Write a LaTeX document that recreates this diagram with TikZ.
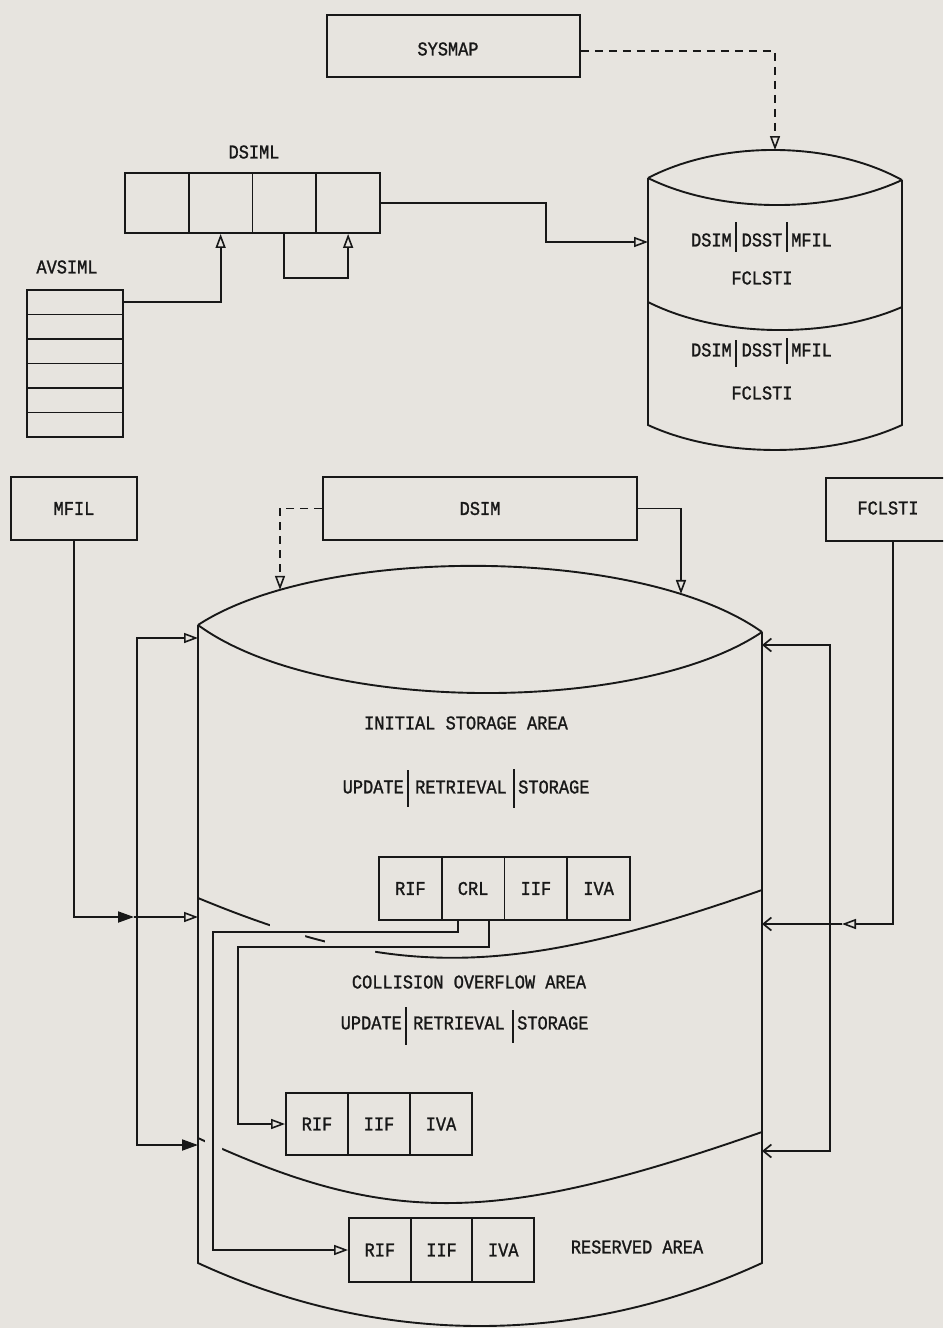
\documentclass[tikz,border=0pt]{standalone}
\usepackage{fontspec}
\newfontfamily\tw[FakeStretch=0.87,FakeBold=1.2]{Liberation Mono}
\usetikzlibrary{arrows.meta,calc,intersections}
\definecolor{paper}{RGB}{231,228,223}
\definecolor{ink}{RGB}{24,24,24}
\begin{document}
\begin{tikzpicture}[x=1pt,y=-1pt,
  every node/.style={font=\tw\fontsize{19.5}{22}\selectfont, text=ink, inner sep=0pt},
  line/.style={draw=ink, line width=1.9pt},
  box/.style={line, rectangle},
  cell/.style={line, rectangle},
  dsh/.style={dash pattern=on 8pt off 6pt},
  tri/.style={-{Triangle[open,length=14pt,width=10pt,line width=1.6pt]}},
  ftri/.style={-{Triangle[length=16pt,width=11pt]}},
  barb/.style={-{Straight Barb[length=8pt,width=13pt,line width=1.7pt]}}]
\fill[paper] (0,0) rectangle (943,1328);
\useasboundingbox (0,0) rectangle (943,1328);
\clip (0,0) rectangle (943,1328);

% ---------- top part ----------
\node[box, minimum width=253pt, minimum height=62pt] (sysmap) at (453.5,46) {};
\node (sysmaplab) at (448,49) {SYSMAP};

\node (dsimllab) at (254,152) {DSIML};
\foreach \i in {1,...,4}
  \node[cell, minimum width=63.75pt, minimum height=60pt] (ds\i) at ({125+63.75*(\i-0.5)},203) {};

\node (avlab) at (67,267) {AVSIML};
\foreach \i in {1,...,6}
  \node[cell, minimum width=96pt, minimum height=24.5pt] (av\i) at (75,{290+24.5*(\i-0.5)}) {};

% small drum
\draw[line] (648,178) .. controls (720,140.3) and (830,140.3) .. (902,180);
\draw[line] (648,178) .. controls (720,213.7) and (830,213.7) .. (902,180);
\draw[line] (648,302) .. controls (720,338.5) and (830,338.5) .. (902,307);
\draw[line] (648,178) -- (648,425) .. controls (720,458.3) and (830,458.3) .. (902,425) -- (902,180);
\coordinate (tcTop) at (775,150);
\coordinate (tcLeft) at (648,242);

\node[anchor=east] (u1) at (732,240) {DSIM};
\node (u2) at (762,240) {DSST};
\node[anchor=west] (u3) at (791,240) {MFIL};
\draw[line] (736,222) -- (736,252);
\draw[line] (787,222) -- (787,252);
\node (u4) at (762,278) {FCLSTI};
\node[anchor=east] (l1) at (732,350) {DSIM};
\node (l2) at (762,350) {DSST};
\node[anchor=west] (l3) at (791,350) {MFIL};
\draw[line] (736,340) -- (736,367);
\draw[line] (787,338) -- (787,364);
\node (l4) at (762,393) {FCLSTI};

% ---------- middle boxes ----------
\node[box, minimum width=126pt, minimum height=63pt] (mfil) at (74,508.5) {MFIL};
\node[box, minimum width=314pt, minimum height=63pt] (dsim) at (480,508.5) {DSIM};
\node[box, minimum width=134pt, minimum height=63pt] (fclsti) at (893,509.5) {};
\node (fclstilab) at (888,508) {FCLSTI};

% ---------- big drum ----------
\draw[line, name path=lidtop] (198,625) .. controls (320,545) and (640,545) .. (762,632);
\draw[line] (198,625) .. controls (320,714.5) and (640,714.5) .. (762,632);
\draw[line] (198,625) -- (198,1263) .. controls (380,1347) and (580,1347) .. (762,1263) -- (762,632);
\draw[line] (198,898) .. controls (394,979) and (508,979) .. (762,890);
\draw[line] (198,1138) .. controls (388,1225.7) and (494,1225.7) .. (762,1132);
% gaps where the connectors cross
\begin{scope}
  \clip (270,880) rectangle (305,990) (325,880) rectangle (375,990);
  \draw[paper, line width=5pt] (198,898) .. controls (394,979) and (508,979) .. (762,890);
\end{scope}
\begin{scope}
  \clip (205,1120) rectangle (222,1200);
  \draw[paper, line width=5pt] (198,1138) .. controls (388,1225.7) and (494,1225.7) .. (762,1132);
\end{scope}

\path[name path=vA] (280,400) -- (280,800);
\path[name path=vB] (681,400) -- (681,800);
\path[name intersections={of=lidtop and vA, by=lidA}];
\path[name intersections={of=lidtop and vB, by=lidB}];

\coordinate (clTop) at (198,638);
\coordinate (clMid) at (198,917);
\coordinate (clBot) at (198,1145);
\coordinate (crTop) at (762,645);
\coordinate (crMid) at (762,924);
\coordinate (crBot) at (762,1151);
\coordinate (mj) at (134,917);
\coordinate (fj) at (842,924);

\node (isa) at (466,723) {INITIAL STORAGE AREA};
\node[anchor=east] (iu) at (404,787) {UPDATE};
\node (ir) at (461,787) {RETRIEVAL};
\node[anchor=west] (is) at (518,787) {STORAGE};
\draw[line] (408,770) -- (408,807);
\draw[line] (514,769) -- (514,808);

\foreach \t [count=\i] in {RIF,CRL,IIF,IVA}
  \node[cell, minimum width=62.75pt, minimum height=63pt] (i\i) at ({379+62.75*(\i-0.5)},888.5) {\t};

\node (coa) at (469,982) {COLLISION OVERFLOW AREA};
\node[anchor=east] (cu) at (402,1023) {UPDATE};
\node (cr) at (459,1023) {RETRIEVAL};
\node[anchor=west] (cs) at (517,1023) {STORAGE};
\draw[line] (406,1007) -- (406,1045);
\draw[line] (513,1010) -- (513,1043);

\foreach \t [count=\i] in {RIF,IIF,IVA}
  \node[cell, minimum width=62pt, minimum height=62pt] (m\i) at ({286+62*(\i-0.5)},1124) {\t};

\foreach \t [count=\i] in {RIF,IIF,IVA}
  \node[cell, minimum width=61.7pt, minimum height=64pt] (r\i) at ({349+61.7*(\i-0.5)},1250) {\t};
\node (rsv) at (637,1247) {RESERVED AREA};

% ---------- connectors ----------
\draw[line, dsh, tri] ($(sysmap.east)+(0,5)$) -| (tcTop);
\draw[line, tri] (ds4.east) -- ++(165,0) |- (tcLeft);
\draw[line, tri] (av1.east) -| (ds2.south);
\draw[line, tri] (ds3.south) -- ++(0,44) -| (ds4.south);
\draw[line, dsh, tri] (dsim.west) -| (lidA);
\draw[line, tri] (dsim.east) -| (lidB);

\draw[line, ftri] (mfil.south) |- (mj);
\draw[line, tri] (mj) -- (clMid);
\draw[line, {Triangle[open,length=14pt,width=10pt,line width=1.6pt]}-{Triangle[length=16pt,width=11pt]}] (clTop) -- ++(-61,0) |- (clBot);

\draw[line, {Straight Barb[length=8pt,width=13pt,line width=1.7pt]}-{Straight Barb[length=8pt,width=13pt,line width=1.7pt]}] (crTop) -- ++(68,0) |- (crBot);
\draw[line, tri] (fclsti.south) |- (fj);
\draw[line, barb] (fj) -- (crMid);

\draw[line, tri] ($(i2.south)+(-15,0)$) |- (213,932) |- (r1.west);
\draw[line, tri] ($(i2.south)+(16,0)$) |- (238,947) |- (m1.west);
\end{tikzpicture}
\end{document}
